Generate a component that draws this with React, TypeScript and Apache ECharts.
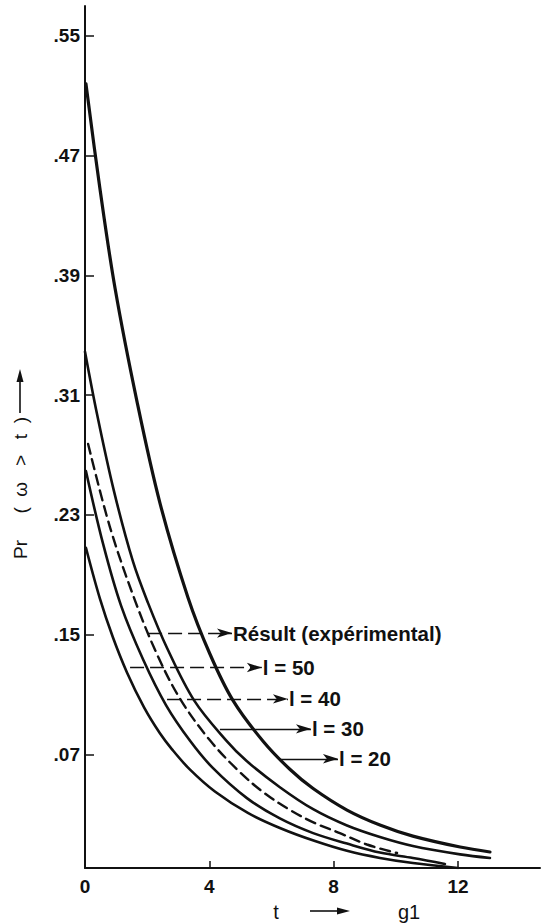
import React, { useEffect, useRef } from "react";
import * as echarts from "echarts";

// ---- data (t, Pr) ----
const yTickValues = [0.07, 0.15, 0.23, 0.31, 0.39, 0.47, 0.55];
const xTickValues = [4, 8, 12];
const xLabelValues = [0, 4, 8, 12];

// top curve  (l = 20)
const tL20 = [0.03, 0.48, 0.97, 1.67, 2.41, 3.31, 4.02, 4.76, 5.73, 6.6, 7.34, 8.43, 9.49, 10.55, 12.07, 13.03];
const vL20 = [0.518, 0.448, 0.381, 0.306, 0.238, 0.175, 0.137, 0.106, 0.0787, 0.0598, 0.0471, 0.0327, 0.0227, 0.0153, 0.008, 0.0047];

// second curve (l = 30)
const tL30 = [0.0, 0.39, 0.93, 1.54, 2.03, 2.64, 3.51, 4.54, 5.21, 6.27, 7.34, 8.43, 9.49, 10.55, 12.07, 13.03];
const vL30 = [0.339, 0.297, 0.246, 0.199, 0.171, 0.141, 0.106, 0.0793, 0.0653, 0.048, 0.0333, 0.0224, 0.0147, 0.0087, 0.0031, 0.0007];

// experimental result (dashed)
const tExp = [0.1, 0.8, 1.61, 2.35, 3.09, 4.02, 4.92, 5.73, 6.6, 7.4, 8.2, 9.07, 10.04];
const vExp = [0.2773, 0.222, 0.1727, 0.1353, 0.106, 0.0793, 0.0593, 0.0447, 0.0327, 0.024, 0.0173, 0.0097, 0.004];

// third solid curve (l = 40)
const tL40 = [0.03, 0.58, 1.16, 1.87, 2.61, 3.38, 4.12, 5.21, 6.27, 7.34, 8.43, 9.49, 10.55, 11.58];
const vL40 = [0.2593, 0.2107, 0.1693, 0.1333, 0.1027, 0.079, 0.0607, 0.0407, 0.0271, 0.0173, 0.0103, 0.0043, 0.0007, -0.0033];

// bottom curve (l = 50)
const tL50 = [0.03, 0.48, 0.9, 1.35, 1.9, 2.41, 2.8, 3.38, 4.18, 5.24, 6.31, 7.4, 8.46, 9.49, 10.55, 12.0];
const vL50 = [0.208, 0.174, 0.148, 0.1247, 0.1013, 0.084, 0.0733, 0.0597, 0.0451, 0.0308, 0.0204, 0.012, 0.0053, 0.0007, -0.0027, -0.006];

// annotation arrows: [label, tStart, tEnd, level]
const annotations: [string, number, number, number][] = [
  ["Résult (expérimental)", 2.03, 4.73, 0.151],
  ["l = 50", 1.45, 5.69, 0.128],
  ["l = 40", 2.64, 6.53, 0.107],
  ["l = 30", 4.34, 7.27, 0.087],
  ["l = 20", 6.27, 8.14, 0.067],
];

const zip = (t: number[], v: number[]) => t.map((x, i) => [x, v[i]]);

const INK = "#111";
const FONT = "'Liberation Sans', Arial, Helvetica, sans-serif";

function arrowMark(idx: number, dashed: boolean) {
  const [label, t0, t1, lv] = annotations[idx];
  return {
    silent: true,
    animation: false,
    symbol: ["none", "arrow"],
    symbolSize: [7, 15],
    lineStyle: { color: INK, width: 1.4, type: dashed ? [14, 6] : "solid" },
    label: {
      show: true,
      position: "end",
      distance: 1,
      formatter: label,
      color: INK,
      fontSize: 20.5,
      fontWeight: "bold",
      fontFamily: FONT,
    },
    emphasis: { disabled: true },
    data: [[{ coord: [t0, lv], symbol: "none" }, { coord: [t1, lv], symbol: "arrow" }]],
  };
}

export default function App() {
  const ref = useRef<HTMLDivElement>(null);
  useEffect(() => {
    if (!ref.current) return;
    const chart = echarts.init(ref.current, undefined, { renderer: "svg" });
    const lineSeries = (name: string, data: number[][], width: number, type: any, mark: any) => ({
      name,
      type: "line",
      data,
      smooth: 0.35,
      showSymbol: false,
      symbol: "none",
      silent: true,
      lineStyle: { color: INK, width, type, cap: "round" },
      z: 3,
      markLine: mark,
    });
    chart.setOption({
      animation: false,
      backgroundColor: "#fff",
      grid: { left: 85, right: 3, top: 6, bottom: 56, outerBoundsMode: "none", containLabel: false },
      xAxis: {
        type: "value",
        min: 0,
        max: 14.64,
        splitLine: { show: false },
        axisLine: { show: true, onZero: false, lineStyle: { color: INK, width: 2 } },
        axisTick: { show: true, inside: true, length: 7, customValues: xTickValues, lineStyle: { color: INK, width: 1.5 } },
        axisLabel: {
          show: true,
          customValues: xLabelValues,
          margin: 9,
          color: INK,
          fontSize: 19,
          fontWeight: "bold",
          fontFamily: FONT,
          formatter: (v: number) => String(v),
        },
      },
      yAxis: {
        type: "value",
        min: -0.006,
        max: 0.57,
        splitLine: { show: false },
        axisLine: { show: true, onZero: false, lineStyle: { color: INK, width: 2 } },
        axisTick: { show: true, inside: true, length: 9, customValues: yTickValues, lineStyle: { color: INK, width: 1.5 } },
        axisLabel: {
          show: true,
          customValues: yTickValues,
          margin: 5,
          color: INK,
          fontSize: 19,
          fontWeight: "bold",
          fontFamily: FONT,
          formatter: (v: number) => "." + String(Math.round(v * 100)).padStart(2, "0"),
        },
      },
      series: [
        lineSeries("l = 20", zip(tL20, vL20), 3.2, "solid", arrowMark(4, false)),
        lineSeries("l = 30", zip(tL30, vL30), 2.6, "solid", arrowMark(3, false)),
        lineSeries("Résult (expérimental)", zip(tExp, vExp), 2.4, [10, 6], arrowMark(0, true)),
        lineSeries("l = 40", zip(tL40, vL40), 2.6, "solid", arrowMark(2, true)),
        lineSeries("l = 50", zip(tL50, vL50), 2.6, "solid", arrowMark(1, true)),
      ],
      graphic: [
        {
          type: "text",
          x: 20,
          y: 488,
          rotation: Math.PI / 2,
          style: {
            text: "Pr     (  ω   >   t  )",
            fill: INK,
            fontSize: 19,
            fontFamily: FONT,
            align: "center",
            verticalAlign: "middle",
          },
        },
        { type: "line", shape: { x1: 20, y1: 413, x2: 20, y2: 380 }, style: { stroke: INK, lineWidth: 1.6 } },
        { type: "polygon", shape: { points: [[20, 369], [16.5, 382], [23.5, 382]] }, style: { fill: INK } },
        {
          type: "text",
          x: 276,
          y: 912,
          style: { text: "t", fill: INK, fontSize: 20, fontFamily: FONT, align: "center", verticalAlign: "middle" },
        },
        { type: "line", shape: { x1: 310, y1: 911, x2: 340, y2: 911 }, style: { stroke: INK, lineWidth: 1.6 } },
        { type: "polygon", shape: { points: [[350, 911], [337, 907.5], [337, 914.5]] }, style: { fill: INK } },
        {
          type: "text",
          x: 409,
          y: 912,
          style: { text: "g1", fill: INK, fontSize: 20, fontFamily: FONT, align: "center", verticalAlign: "middle" },
        },
      ],
    });
    return () => chart.dispose();
  }, []);
  return <div ref={ref} style={{ position: "fixed", left: 0, top: 0, width: 543, height: 924 }} />;
}
